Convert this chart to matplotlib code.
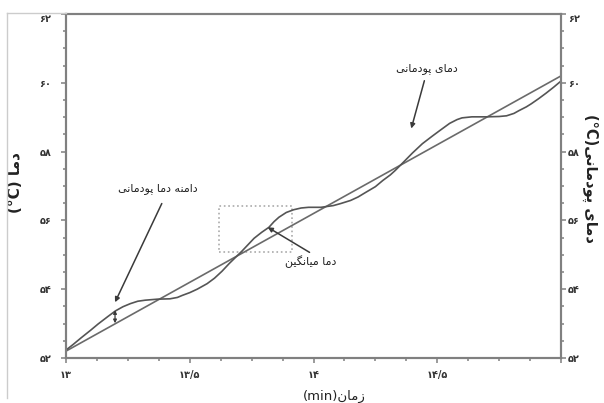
import matplotlib
matplotlib.use('Agg')
import matplotlib.pyplot as plt
from matplotlib.ticker import MultipleLocator, FixedLocator
from matplotlib.lines import Line2D
from matplotlib.patches import Rectangle

# زمان (دقیقه) و دمای پودمانی خوانده شده از منحنی
t_mod = [13.00, 13.03, 13.06, 13.10, 13.13, 13.17, 13.20, 13.23, 13.26, 13.29,
         13.32, 13.37, 13.42, 13.45, 13.47, 13.50, 13.53, 13.57, 13.60, 13.63,
         13.66, 13.71, 13.76, 13.79, 13.82, 13.84, 13.86, 13.89, 13.92, 13.95,
         13.98, 14.03, 14.08, 14.11, 14.15, 14.18, 14.21, 14.25, 14.28, 14.31,
         14.33, 14.37, 14.40, 14.44, 14.48, 14.51, 14.55, 14.58, 14.60, 14.64,
         14.70, 14.75, 14.78, 14.81, 14.83, 14.86, 14.88, 14.91, 14.94, 14.97,
         15.00]
T_mod = [52.23, 52.40, 52.58, 52.81, 52.99, 53.21, 53.37, 53.49, 53.58, 53.65,
         53.68, 53.71, 53.72, 53.76, 53.82, 53.90, 54.00, 54.16, 54.32, 54.52,
         54.75, 55.10, 55.48, 55.65, 55.80, 55.96, 56.09, 56.23, 56.31, 56.36,
         56.38, 56.38, 56.43, 56.49, 56.58, 56.68, 56.81, 56.98, 57.16, 57.32,
         57.45, 57.74, 57.96, 58.23, 58.45, 58.61, 58.82, 58.93, 58.98, 59.01,
         59.01, 59.02, 59.04, 59.11, 59.19, 59.30, 59.39, 59.54, 59.70, 59.87,
         60.05]

# دمای میانگین (خط راست)
t_avg = [13.0, 15.0]
T_avg = [52.2, 60.2]

x_ticks = [13, 13.5, 14, 14.5, 15]
x_labels = ['۱۳', '۱۳/۵', '۱۴', '۱۴/۵', '']
y_ticks = [52, 54, 56, 58, 60, 62]
y_labels = ['۵۲', '۵۴', '۵۶', '۵۸', '۶۰', '۶۲']

# شکل‌های حروف: تنها، پایانی، آغازی، میانی
FORMS = {
    'ا': ('\uFE8D', '\uFE8E', None, None),
    'د': ('\uFEA9', '\uFEAA', None, None),
    'ز': ('\uFEAF', '\uFEB0', None, None),
    'و': ('\uFEED', '\uFEEE', None, None),
    'م': ('\uFEE1', '\uFEE2', '\uFEE3', '\uFEE4'),
    'ن': ('\uFEE5', '\uFEE6', '\uFEE7', '\uFEE8'),
    'ه': ('\uFEE9', '\uFEEA', '\uFEEB', '\uFEEC'),
    'ی': ('\uFBFC', '\uFBFD', '\uFBFE', '\uFBFF'),
    'پ': ('\uFB56', '\uFB57', '\uFB58', '\uFB59'),
    'گ': ('\uFB92', '\uFB93', '\uFB94', '\uFB95'),
}


def fa(s):
    out = []
    for i, ch in enumerate(s):
        if ch not in FORMS:
            out.append(ch)
            continue
        iso, fin, ini, med = FORMS[ch]
        prev = s[i - 1] if i > 0 else None
        nxt = s[i + 1] if i + 1 < len(s) else None
        jp = prev in FORMS and FORMS[prev][2] is not None
        jn = nxt in FORMS and ini is not None
        if jp and jn:
            out.append(med)
        elif jp:
            out.append(fin)
        elif jn:
            out.append(ini)
        else:
            out.append(iso)
    return ''.join(out)[::-1]


fig = plt.figure(figsize=(6.04, 4.03), dpi=100)
ax = fig.add_axes([0.1093, 0.1117, 0.8195, 0.8536])

ax.plot(t_avg, T_avg, color='#6a6a6a', lw=1.2)
ax.plot(t_mod, T_mod, color='#555555', lw=1.2)

ax.set_xlim(13, 15)
ax.set_ylim(52, 62)

spine_c = '#808080'
for s in ax.spines.values():
    s.set_color(spine_c)
    s.set_linewidth(1.5)

ax.xaxis.set_major_locator(FixedLocator(x_ticks))
ax.set_xticklabels(x_labels)
ax.xaxis.set_minor_locator(MultipleLocator(0.125))
ax.yaxis.set_major_locator(FixedLocator(y_ticks))
ax.set_yticklabels(y_labels)
ax.yaxis.set_minor_locator(MultipleLocator(0.5))
ax.tick_params(axis='both', which='both', color=spine_c, width=1.1, direction='out')
ax.tick_params(axis='both', which='major', length=3.5, labelsize=7)
ax.tick_params(axis='both', which='minor', length=2.5)
ax.tick_params(axis='y', which='major', pad=7)
ax.tick_params(axis='x', which='major', pad=5)
for lb in ax.get_xticklabels() + ax.get_yticklabels():
    lb.set_fontweight('bold')
    lb.set_color('#333333')
ax.get_yticklabels()[-1].set_va('top')

ax2 = ax.twinx()
ax2.set_ylim(52, 62)
ax2.yaxis.set_major_locator(FixedLocator(y_ticks))
ax2.set_yticklabels(y_labels)
ax2.yaxis.set_minor_locator(MultipleLocator(0.5))
ax2.tick_params(axis='y', which='both', color=spine_c, width=1.1, direction='out')
ax2.tick_params(axis='y', which='major', length=3.5, labelsize=7, pad=1.5)
ax2.tick_params(axis='y', which='minor', length=2.5)
for s in ax2.spines.values():
    s.set_color(spine_c)
    s.set_linewidth(1.5)
for lb in ax2.get_yticklabels():
    lb.set_fontweight('bold')
    lb.set_color('#333333')
ax2.get_yticklabels()[-1].set_va('top')

# عنوان محورها
ax.text(-0.103, 0.509, '(°C) ' + fa('دما'), transform=ax.transAxes, rotation=90,
        ha='center', va='center', fontsize=11, fontweight='bold', color='#222222')
ax.text(1.059, 0.523, '(°C)' + fa('دمای پودمانی'), transform=ax.transAxes, rotation=-90,
        ha='center', va='center', fontsize=10.5, fontweight='bold', color='#222222')
ax.text(0.543, -0.113, '(min)' + fa('زمان'), transform=ax.transAxes,
        ha='center', va='center', fontsize=9.5, color='#222222')

# کادر نقطه‌چین
ax.add_patch(Rectangle((13.617, 55.07), 0.298, 1.36, fill=False,
                       edgecolor='#aaaaaa', lw=1.2, ls=':'))

arrow = dict(arrowstyle='-|>', color='#3a3a3a', lw=1.1, mutation_scale=7,
             shrinkA=0, shrinkB=0)
ax.text(13.37, 56.93, fa('دامنه دما پودمانی'), ha='center', va='center',
        fontsize=8, color='#222222')
ax.annotate('', xy=(13.198, 53.62), xytext=(13.387, 56.49), arrowprops=arrow)
ax.text(14.46, 60.41, fa('دمای پودمانی'), ha='center', va='center',
        fontsize=8, color='#222222')
ax.annotate('', xy=(14.395, 58.67), xytext=(14.448, 60.06), arrowprops=arrow)
ax.text(13.99, 54.81, fa('دما میانگین'), ha='center', va='center',
        fontsize=8, color='#222222')
ax.annotate('', xy=(13.815, 55.80), xytext=(13.984, 55.07), arrowprops=arrow)

# پیکان دوسر دامنه
ax.annotate('', xy=(13.198, 53.39), xytext=(13.198, 53.01),
            arrowprops=dict(arrowstyle='<|-|>', color='#3a3a3a', lw=0.9,
                            mutation_scale=5, shrinkA=0, shrinkB=0))

# قاب بیرونی
fig.add_artist(Line2D([7 / 604, 7 / 604], [1 - 398 / 403, 1 - 13 / 403],
                      color='#cccccc', lw=1))
fig.add_artist(Line2D([7 / 604, 66 / 604], [1 - 13 / 403, 1 - 13 / 403],
                      color='#cccccc', lw=1))

fig.savefig('out.png', dpi=100)
